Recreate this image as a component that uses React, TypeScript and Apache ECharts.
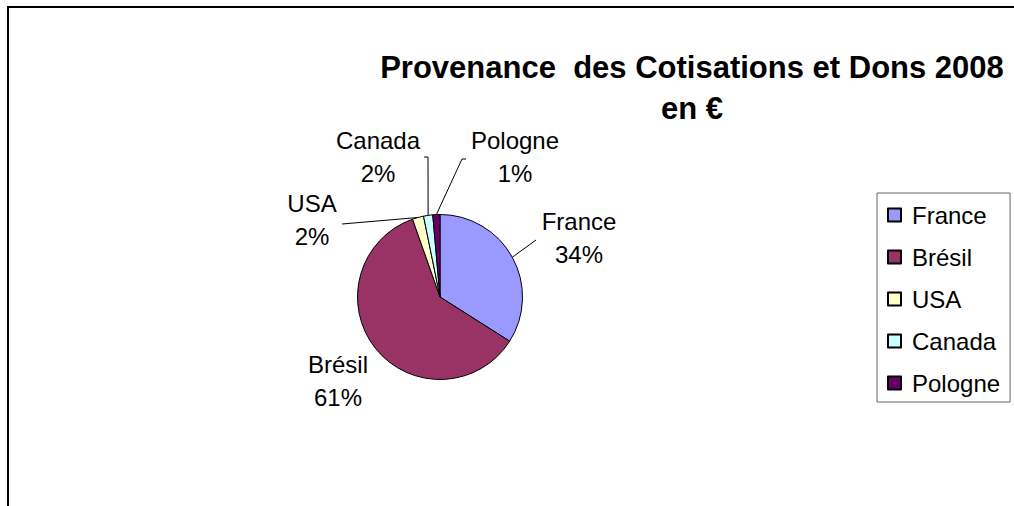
import React, { useEffect, useRef } from "react";
import * as echarts from "echarts";

const categories = ["France", "Brésil", "USA", "Canada", "Pologne"];
const values = [34.0, 60.6, 2.2, 1.8, 1.4];
const colors = ["#9999FF", "#993366", "#FFFFCC", "#CCFFFF", "#660066"];
const titleLines = ["Provenance  des Cotisations et Dons 2008", "en €"];

// label block centres and leader-line targets (layout only)
const labelPos: Record<string, [number, number]> = {
  France: [579, 238],
  "Brésil": [338, 381],
  USA: [312, 220],
  Canada: [378, 157],
  Pologne: [515, 157],
};
const leaderMid: Record<string, [number, number] | null> = {
  France: [536, 240],
  "Brésil": null,
  USA: [342, 224],
  Canada: [428, 157],
  Pologne: [462, 159],
};
const leaderEnd: Record<string, [number, number] | null> = {
  France: [536, 240],
  "Brésil": null,
  USA: [342, 224],
  Canada: [424, 157],
  Pologne: [466, 159],
};

export default function App() {
  const ref = useRef<HTMLDivElement>(null);
  useEffect(() => {
    if (!ref.current) return;
    const chart = echarts.init(ref.current, null, { renderer: "svg" });
    const font = "'Liberation Sans', Arial, sans-serif";
    chart.setOption({
      animation: false,
      backgroundColor: "#ffffff",
      title: {
        text: titleLines.join("\n"),
        left: 692,
        top: 47,
        textAlign: "center",
        padding: 0,
        textStyle: {
          fontFamily: font,
          fontWeight: "bold",
          fontSize: 31,
          lineHeight: 41,
          color: "#000",
        },
      },
      legend: {
        orient: "vertical",
        left: 877,
        top: 193,
        padding: [10, 10, 7, 10],
        itemGap: 18,
        itemWidth: 13,
        itemHeight: 13,
        icon: "rect",
        borderColor: "#666",
        borderWidth: 1,
        data: categories,
        textStyle: {
          fontFamily: font,
          fontSize: 24,
          lineHeight: 24,
          color: "#000",
          padding: [0, 0, 0, 6],
        },
      },
      graphic: [
        {
          type: "rect",
          shape: { x: 8, y: 7, width: 1100, height: 600 },
          style: { fill: "none", stroke: "#000", lineWidth: 2 },
          silent: true,
        },
      ],
      series: [
        {
          type: "pie",
          center: [440, 297],
          radius: 82.5,
          startAngle: 90,
          clockwise: true,
          avoidLabelOverlap: false,
          percentPrecision: 0,
          itemStyle: { borderColor: "#000", borderWidth: 1 },
          label: {
            show: true,
            position: "outside",
            formatter: "{b}\n{d}%",
            fontFamily: font,
            fontSize: 24,
            lineHeight: 33,
            color: "#000",
            align: "center",
          },
          labelLine: {
            show: true,
            length: 10,
            length2: 10,
            lineStyle: { color: "#000", width: 1 },
          },
          emphasis: { disabled: true },
          labelLayout: (params: any) => {
            const name = categories[params.dataIndex];
            const p = labelPos[name];
            const out: any = {
              x: p[0],
              y: p[1],
              align: "center",
              verticalAlign: "middle",
            };
            const pts = params.labelLinePoints;
            const m = leaderMid[name];
            const e = leaderEnd[name];
            if (pts && m && e) {
              out.labelLinePoints = [pts[0], m, e];
            }
            return out;
          },
          data: categories.map((c, i) => ({
            name: c,
            value: values[i],
            itemStyle: { color: colors[i] },
            labelLine: { show: leaderMid[c] !== null },
          })),
        },
      ],
    });
    return () => chart.dispose();
  }, []);
  return (
    <div
      ref={ref}
      style={{ position: "fixed", left: 0, top: 0, width: 1014, height: 506, background: "#fff" }}
    />
  );
}
